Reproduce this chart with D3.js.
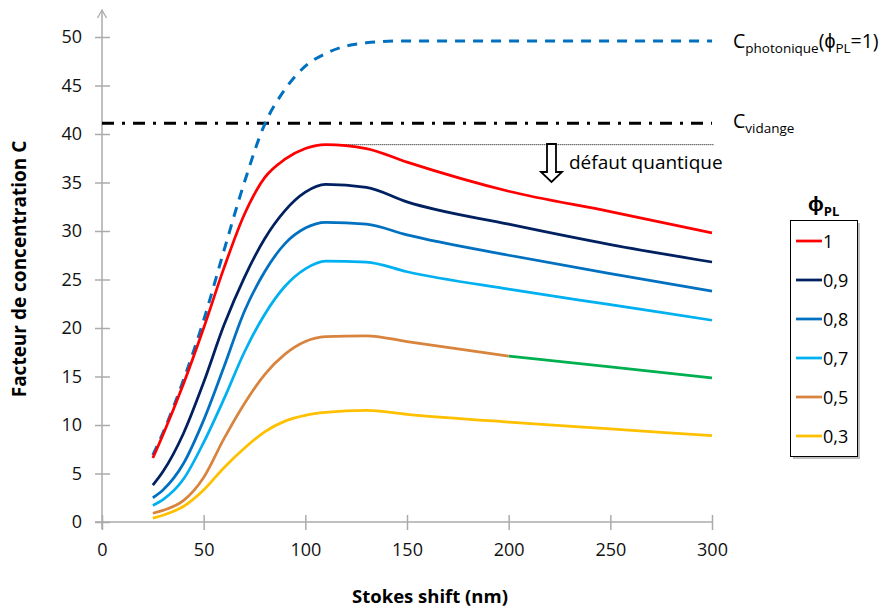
<!DOCTYPE html>
<html><head><meta charset="utf-8">
<script src="https://cdn.jsdelivr.net/npm/d3@7"></script>
<style>body{margin:0;background:#fff}svg{display:block;font-family:"Open Sans",sans-serif}</style>
</head><body><svg id="c" width="883" height="608"></svg>
<script>
const stokes = [25,30,40,50,60,70,80,90,100,110,130,150,200,250,300];
const cPhotonique = [6.9,9.2,14.6,20.8,28.0,35.0,41.0,44.6,47.0,48.3,49.4,49.6,49.6,49.6,49.6];
const phi1  = [6.6,9.0,14.2,20.0,26.2,31.7,35.5,37.4,38.5,38.9,38.5,37.1,34.1,32.0,29.8];
const phi09 = [3.8,5.2,9.1,14.4,20.3,25.2,29.2,32.1,34.0,34.8,34.5,33.0,30.7,28.6,26.8];
const phi08 = [2.5,3.3,6.0,10.5,16.0,21.7,25.8,28.7,30.3,30.9,30.7,29.6,27.5,25.6,23.8];
const phi07 = [1.7,2.3,4.4,8.2,12.7,17.5,21.4,24.3,26.1,26.9,26.8,25.8,24.0,22.4,20.8];
const phi05 = [0.9,1.2,2.2,4.6,8.6,12.2,15.2,17.3,18.6,19.1,19.2,18.6,17.1,16.0,14.85];
const phi03 = [0.4,0.7,1.6,3.3,5.6,7.6,9.3,10.4,11.0,11.3,11.5,11.1,10.3,9.6,8.9];
const cVidange = 41.1;
const defautLevel = 38.9;
const xTicks = [0,50,100,150,200,250,300];
const yTicks = [0,5,10,15,20,25,30,35,40,45,50];
const legendLabels = ["1","0,9","0,8","0,7","0,5","0,3"];
const legendColors = ["#FF0000","#002060","#0070C0","#00B0F0","#D8843E","#FFC000"];
const greenColor = "#00B050";
const greenFrom = 200;

const svg = d3.select("#c");
const x = d3.scaleLinear().domain([0,300]).range([102,712]);
const y = d3.scaleLinear().domain([0,50]).range([522,37]);
const axisColor = "#ABABAB";

// axes
const gx = svg.append("g").attr("transform","translate(0,522)")
  .call(d3.axisBottom(x).tickValues(xTicks).tickSize(7).tickPadding(14).tickFormat(d3.format("d")));
gx.select(".domain").remove();
gx.selectAll(".tick line").attr("y1",-7).attr("y2",8).attr("stroke",axisColor).attr("stroke-width",1.5);
gx.selectAll(".tick text").attr("font-size",18).attr("fill","#111").attr("font-family","Open Sans");
svg.append("line").attr("x1",95).attr("x2",x(300)).attr("y1",522).attr("y2",522).attr("stroke",axisColor).attr("stroke-width",1.5);

const gy = svg.append("g").attr("transform","translate(102,0)")
  .call(d3.axisLeft(y).tickValues(yTicks).tickSize(7).tickPadding(13));
gy.select(".domain").remove();
gy.selectAll(".tick line").attr("x1",-7).attr("x2",8).attr("stroke",axisColor).attr("stroke-width",1.5);
gy.selectAll(".tick text").attr("font-size",18).attr("fill","#111").attr("font-family","Open Sans");
svg.append("line").attr("x1",102).attr("x2",102).attr("y1",529).attr("y2",10).attr("stroke",axisColor).attr("stroke-width",1.5);
svg.append("path").attr("d","M97.5,18 L102,10 L106.5,18").attr("fill","none").attr("stroke",axisColor).attr("stroke-width",1.3);

// titles
svg.append("text").attr("x",430).attr("y",603).attr("text-anchor","middle")
  .attr("font-weight","bold").attr("font-size",18.5).text("Stokes shift (nm)");
svg.append("text").attr("transform","translate(26,269) rotate(-90)").attr("text-anchor","middle")
  .attr("font-weight","bold").attr("font-size",19).text("Facteur de concentration C");

// reference lines
svg.append("line").attr("x1",x(0)).attr("x2",x(300)).attr("y1",y(cVidange)).attr("y2",y(cVidange))
  .attr("stroke","#000").attr("stroke-width",3).attr("stroke-dasharray","12,8,3,8");
svg.append("line").attr("x1",x(110)).attr("x2",x(301)).attr("y1",y(defautLevel)).attr("y2",y(defautLevel))
  .attr("stroke","#000").attr("stroke-width",1).attr("stroke-dasharray","1,1");

const line = d3.line().x(d=>x(d[0])).y(d=>y(d[1])).curve(d3.curveMonotoneX);
const pairs = v => stokes.map((s,i)=>[s,v[i]]);

svg.append("path").attr("d",line(pairs(cPhotonique))).attr("fill","none")
  .attr("stroke","#0070C0").attr("stroke-width",3).attr("stroke-dasharray","10,8");

const series = [phi1,phi09,phi08,phi07,phi05,phi03];
series.forEach((v,i)=>{
  let pts = pairs(v);
  if (i===4) {
    svg.append("path").attr("d",line(pts.filter(p=>p[0]>=greenFrom))).attr("fill","none")
      .attr("stroke",greenColor).attr("stroke-width",2.75);
    pts = pts.filter(p=>p[0]<=greenFrom);
  }
  svg.append("path").attr("d",line(pts)).attr("fill","none")
    .attr("stroke",legendColors[i]).attr("stroke-width",2.75);
});

// arrow + text
svg.append("path").attr("d","M547,144 L556,144 L556,172 L562,172 L551.5,182 L541,172 L547,172 Z")
  .attr("fill","#fff").attr("stroke","#000").attr("stroke-width",1.8);
svg.append("text").attr("x",569).attr("y",169).attr("font-size",19).text("défaut quantique");

// right labels
const t1 = svg.append("text").attr("x",733).attr("y",48).attr("font-size",19.5);
t1.append("tspan").text("C");
t1.append("tspan").attr("font-size",13.5).attr("dy",5).text("photonique");
t1.append("tspan").attr("dy",-5).text("(ϕ");
t1.append("tspan").attr("font-size",13.5).attr("dy",5).text("PL");
t1.append("tspan").attr("dy",-5).text("=1)");
const t2 = svg.append("text").attr("x",733).attr("y",128).attr("font-size",19.5);
t2.append("tspan").text("C");
t2.append("tspan").attr("font-size",13.5).attr("dy",5).text("vidange");

// legend
const lt = svg.append("text").attr("x",808).attr("y",211).attr("font-size",21).attr("font-weight","bold");
lt.append("tspan").text("ϕ");
lt.append("tspan").attr("font-size",13).attr("dy",5).text("PL");
svg.append("rect").attr("x",793).attr("y",223).attr("width",67).attr("height",236).attr("fill","#BFBFBF");
svg.append("rect").attr("x",790.5).attr("y",220.5).attr("width",67).attr("height",236)
  .attr("fill","#fff").attr("stroke","#000").attr("stroke-width",1);
legendLabels.forEach((lab,i)=>{
  const yy = 241 + i*39;
  svg.append("line").attr("x1",796).attr("x2",822).attr("y1",yy).attr("y2",yy)
    .attr("stroke",legendColors[i]).attr("stroke-width",2.75);
  svg.append("text").attr("x",823).attr("y",yy+6.5).attr("font-size",18).text(lab);
});
</script></body></html>
